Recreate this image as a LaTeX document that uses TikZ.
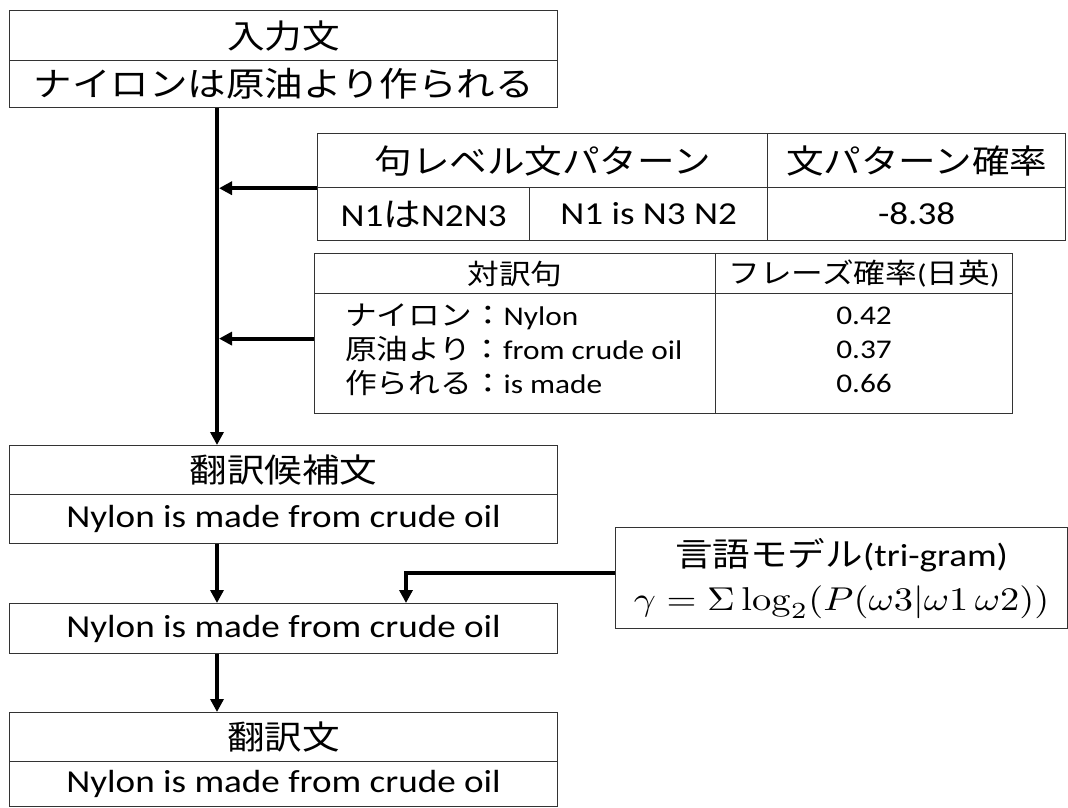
\documentclass[tikz,border=0pt]{standalone}
\usepackage[no-math]{fontspec}
\setmainfont{Carlito}[FakeStretch=1.16]
\newfontfamily\jp{Noto Sans CJK JP}[FakeStretch=1.14,Scale=1.03]
\usetikzlibrary{arrows.meta}
\tikzset{
  cell/.style={draw=black!80, line width=1.2pt, inner sep=0pt, anchor=north west},
  big/.style={font=\fontsize{32}{38}\selectfont},
  small/.style={font=\fontsize{27}{34}\selectfont},
  arr/.style={line width=4pt, -{Triangle[length=13pt,width=13pt]}}
}
\begin{document}
\begin{tikzpicture}[x=1pt,y=-1pt]
\useasboundingbox (0,0) rectangle (1068,807);
% input box
\node[cell,big,minimum width=548pt,minimum height=50pt] (inT) at (9,10) {\jp 入力文};
\node[cell,big,minimum width=548pt,minimum height=47pt] (inS) at (9,60) {\jp\fontsize{32.8}{38}\selectfont ナイロンは原油より作られる};
% pattern table
\node[cell,big,minimum width=450pt,minimum height=54pt] (patH) at (317,133) {\jp 句レベル文パターン};
\node[cell,big,minimum width=298pt,minimum height=54pt] (patPH) at (767,133) {\jp 文パターン確率};
\node[cell,big,minimum width=212pt,minimum height=53pt] (patJ) at (317,187) {N1{\jp は}N2N3};
\node[cell,big,minimum width=238pt,minimum height=53pt] (patE) at (529,187) {N1 is N3 N2};
\node[cell,big,minimum width=298pt,minimum height=53pt] (patP) at (767,187) {-8.38};
% phrase table
\node[cell,small,minimum width=401pt,minimum height=40pt] (phH) at (314,253) {\jp 対訳句};
\node[cell,small,minimum width=297pt,minimum height=40pt] (phPH) at (715,253) {{\jp フレーズ確率}({\jp 日英})};
\node[cell,minimum width=401pt,minimum height=120pt] (phB) at (314,293) {};
\node[cell,minimum width=297pt,minimum height=120pt] (phP) at (715,293) {};
\node[small,anchor=west,align=left,inner sep=0pt] (phTxt) at ([xshift=31pt,yshift=4pt]phB.west)
  {{\jp ナイロン：}Nylon\\{\jp 原油より：}from crude oil\\{\jp 作られる：}is made};
\node[small,align=center,inner sep=0pt] (phNum) at ([yshift=4pt]phP.center)
  {0.42\\0.37\\0.66};
% candidate box
\node[cell,big,minimum width=548pt,minimum height=49pt] (candT) at (9,445) {\jp 翻訳候補文};
\node[cell,big,minimum width=548pt,minimum height=49pt] (candS) at (9,494) {Nylon is made from crude oil};
% middle box
\node[cell,big,minimum width=548pt,minimum height=50pt] (mid) at (9,603) {Nylon is made from crude oil};
% language model
\node[cell,big,minimum width=452pt,minimum height=101pt,align=center] (lm) at (615,527)
  {{\jp 言語モデル}(tri-gram)\\[6pt]
   \scalebox{3.85}[3.3]{\normalsize$\gamma=\Sigma\log_2(P(\omega3|\omega1\,\omega2))$}};
% output box
\node[cell,big,minimum width=548pt,minimum height=49pt] (outT) at (9,712) {\jp 翻訳文};
\node[cell,big,minimum width=548pt,minimum height=45pt] (outS) at (9,761) {Nylon is made from crude oil};
% connectors
\coordinate (tx) at (217,0);
\coordinate (cx) at (406,0);
\draw[arr] (inS.south -| tx) -- (candT.north -| tx);
\draw[arr] (patH.south west) -- ([xshift=2pt]patH.south west -| tx);
\draw[arr] ([yshift=15pt]phB.west) -- ([xshift=2pt,yshift=15pt]phB.west -| tx);
\draw[arr] (candS.south -| tx) -- (mid.north -| tx);
\draw[arr] ([yshift=5pt]lm.west) -| (mid.north -| cx);
\draw[arr] (mid.south -| tx) -- (outT.north -| tx);
\end{tikzpicture}
\end{document}
